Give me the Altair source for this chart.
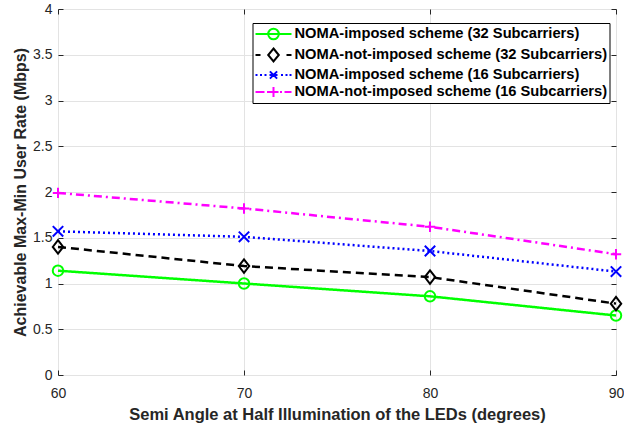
import altair as alt
import pandas as pd

# ---------------- data ----------------
angles = [60, 70, 80, 90]
series_names = [
    "NOMA-imposed scheme (32 Subcarriers)",
    "NOMA-not-imposed scheme (32 Subcarriers)",
    "NOMA-imposed scheme (16 Subcarriers)",
    "NOMA-not-imposed scheme (16 Subcarriers)",
]
imposed_32 = [1.14, 1.00, 0.86, 0.65]
not_imposed_32 = [1.40, 1.19, 1.07, 0.78]
imposed_16 = [1.57, 1.51, 1.355, 1.13]
not_imposed_16 = [1.99, 1.82, 1.62, 1.32]
x_ticks = [60, 70, 80, 90]
y_ticks = [0, 0.5, 1, 1.5, 2, 2.5, 3, 3.5, 4]

all_values = [imposed_32, not_imposed_32, imposed_16, not_imposed_16]
rows = []
for name, vals in zip(series_names, all_values):
    for a, v in zip(angles, vals):
        # duplicate keys so that only the chosen channels feed the legend
        rows.append({"angle": a, "rate": v, "series": name, "mk": name, "dk": name})
df = pd.DataFrame(rows)

# ---------------- styles ----------------
colors = ["#00ff00", "#000000", "#0000ff", "#ff00ff"]
dashes = [[1, 0], [8, 5], [2, 3], [8, 4, 2, 4]]
diamond = "M0,-1.3L1,0L0,1.3L-1,0Z"
xmark = "M-1,-1L1,1M-1,1L1,-1"
plus = "M-1,0L1,0M0,-1L0,1"
shapes = ["circle", diamond, xmark, plus]
sizes = [110, 108, 45, 81]

# legend glyph geometry: symbol size 256 -> 8 px per path unit
LEG_SIZE = 256
UNIT = 8.0


def u(px):
    # px measured from the left end of the 36 px line sample
    return round(px / UNIT - 1, 3)


def seg(a, b):
    return f"M{u(a)},0L{u(b)},0"


def vy(px):
    return round(px / UNIT, 3)


C = 18  # marker centre (px from sample start)
r = 5.3
leg_green = seg(0, 36) + (
    f"M{u(C + r)},0A{vy(r)},{vy(r)} 0 1,1 {u(C - r)},0A{vy(r)},{vy(r)} 0 1,1 {u(C + r)},0"
)
leg_black = seg(0, 5) + seg(31, 36) + (
    f"M{u(C)},{vy(-6.5)}L{u(C + 5.3)},0L{u(C)},{vy(6.5)}L{u(C - 5.3)},0Z"
)
dots = ""
for s in [0, 4.5, 9, 25.5, 30, 34]:
    dots += seg(s, s + 2)
leg_blue = dots + seg(C - 4, C + 4) + (
    f"M{u(C - 3.6)},{vy(-3.6)}L{u(C + 3.6)},{vy(3.6)}M{u(C - 3.6)},{vy(3.6)}L{u(C + 3.6)},{vy(-3.6)}"
)
leg_mag = (seg(0, 9) + seg(11.5, 13.5) + seg(C - 5, C + 5)
           + f"M{u(C)},{vy(-5)}L{u(C)},{vy(5)}" + seg(24.5, 26.5) + seg(29, 36))
leg_paths = [leg_green, leg_black, leg_blue, leg_mag]

names_js = "[" + ",".join(f"'{n}'" for n in series_names) + "]"
sym_expr = "[" + ",".join(f"'{p}'" for p in leg_paths) + f"][indexof({names_js}, datum.value)]"
stroke_expr = "[" + ",".join(f"'{c}'" for c in colors) + f"][indexof({names_js}, datum.value)]"

FONT = "Liberation Sans"
AX = "#262626"

legend = alt.Legend(
    title=None,
    orient="none",
    legendX=194.5,
    legendY=14,
    symbolType=alt.ExprRef(expr=sym_expr),
    symbolStrokeColor=alt.ExprRef(expr=stroke_expr),
    symbolStrokeWidth=2,
    symbolFillColor="transparent",
    symbolOpacity=1,
    labelFont=FONT,
    labelFontSize=14.7,
    labelFontWeight="bold",
    labelColor="black",
    labelOffset=22,
    labelLimit=0,
    padding=2,
    rowPadding=0,
    strokeColor="black",
    fillColor="white",
    cornerRadius=0,
)

x_scale = alt.Scale(domain=[60, 90], nice=False, zero=False)
y_scale = alt.Scale(domain=[0, 4], nice=False)
color_scale = alt.Scale(domain=series_names, range=colors)

x_main = alt.X(
    "angle:Q",
    scale=x_scale,
    axis=alt.Axis(
        values=x_ticks,
        title="Semi Angle at Half Illumination of the LEDs (degrees)",
        grid=True,
        gridColor="#e3e3e3",
        domain=False,
        tickSize=5,
        offset=-5,
        labelPadding=11,
        labelFlush=False,
        tickColor=AX,
        labelColor=AX,
        titleColor=AX,
        labelFont=FONT,
        labelFontSize=14,
        titleFont=FONT,
        titleFontSize=16.5,
        titleFontWeight="bold",
        titlePadding=6,
    ),
)
y_main = alt.Y(
    "rate:Q",
    scale=y_scale,
    axis=alt.Axis(
        values=y_ticks,
        format="~g",
        title="Achievable Max-Min User Rate (Mbps)",
        grid=True,
        gridColor="#e3e3e3",
        domain=False,
        tickSize=5,
        offset=-5,
        labelPadding=6,
        labelFlush=False,
        tickColor=AX,
        labelColor=AX,
        titleColor=AX,
        labelFont=FONT,
        labelFontSize=14,
        titleFont=FONT,
        titleFontSize=16,
        titleFontWeight="bold",
        titlePadding=4,
    ),
)

base = alt.Chart(df)

lines = base.mark_line(strokeWidth=2.5).encode(
    x=x_main,
    y=y_main,
    color=alt.Color("series:N", scale=color_scale, legend=None),
    strokeDash=alt.StrokeDash("dk:N", scale=alt.Scale(domain=series_names, range=dashes), legend=None),
)

points = base.mark_point(filled=False, strokeWidth=2, opacity=1).encode(
    x=alt.X("angle:Q", scale=x_scale, axis=None),
    y=alt.Y("rate:Q", scale=y_scale, axis=None),
    color=alt.Color("series:N", scale=color_scale, legend=None),
    shape=alt.Shape("mk:N", scale=alt.Scale(domain=series_names, range=shapes), legend=None),
    size=alt.Size("mk:N", scale=alt.Scale(domain=series_names, range=sizes), legend=None),
)

# invisible layer: carries the mirrored top/right tick axes and the legend
mirror = base.mark_point(opacity=0).encode(
    x=alt.X(
        "angle:Q",
        scale=x_scale,
        axis=alt.Axis(orient="top", values=x_ticks, labels=False, title=None, grid=False,
                      domain=False, tickSize=5, offset=-5, tickColor=AX),
    ),
    y=alt.Y(
        "rate:Q",
        scale=y_scale,
        axis=alt.Axis(orient="right", values=y_ticks, labels=False, title=None, grid=False,
                      domain=False, tickSize=5, offset=-5, tickColor=AX),
    ),
    color=alt.Color("series:N", scale=color_scale, legend=legend),
    size=alt.Size("series:N", scale=alt.Scale(domain=series_names, range=[LEG_SIZE] * 4), legend=legend),
)

chart = (
    alt.layer(lines, points, mirror)
    .resolve_axis(x="independent", y="independent")
    .resolve_scale(size="independent")
    .properties(
        width=558,
        height=366,
        autosize=alt.AutoSizeParams(type="none"),
        padding={"left": 58, "top": 9, "right": 8, "bottom": 54},
    )
    .configure_view(stroke=AX, strokeWidth=1)
    .configure(background="white")
)

chart.save("out.html", embed_options={"renderer": "svg", "actions": False})
